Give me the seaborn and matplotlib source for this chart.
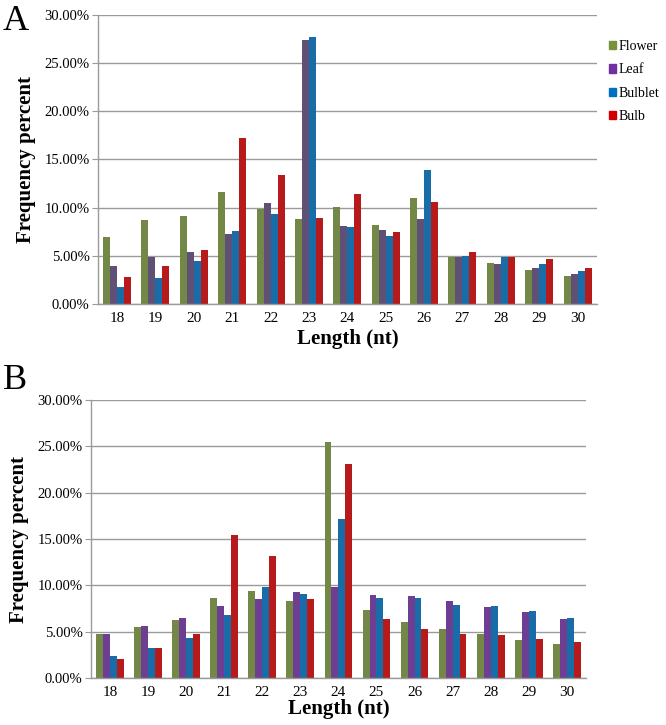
import pandas as pd
import numpy as np
import matplotlib
matplotlib.use('Agg')
import matplotlib.pyplot as plt
import seaborn as sns
from matplotlib.patches import Patch
from matplotlib.ticker import FuncFormatter

# sRNA length distribution, values in percent
lengths = [18, 19, 20, 21, 22, 23, 24, 25, 26, 27, 28, 29, 30]
tissues = ['Flower', 'Leaf', 'Bulblet', 'Bulb']

# panel A
a_flower = [7.0, 8.75, 9.17, 11.63, 9.9, 8.82, 10.03, 8.16, 11.0, 4.83, 4.27, 3.54, 2.92]
a_leaf = [3.99, 4.9, 5.35, 7.26, 10.52, 27.38, 8.09, 7.64, 8.82, 4.93, 4.2, 3.72, 3.13]
a_bulblet = [1.81, 2.71, 4.51, 7.53, 9.34, 27.76, 7.99, 7.01, 13.92, 5.03, 4.83, 4.17, 3.44]
a_bulb = [2.81, 3.99, 5.56, 17.26, 13.37, 8.92, 11.42, 7.47, 10.63, 5.38, 4.9, 4.72, 3.72]

# panel B
b_flower = [4.72, 5.55, 6.23, 8.68, 9.43, 8.32, 25.42, 7.38, 6.05, 5.29, 4.72, 4.14, 3.67]
b_leaf = [4.72, 5.65, 6.52, 7.74, 8.57, 9.33, 9.79, 8.97, 8.89, 8.32, 7.63, 7.09, 6.34]
b_bulblet = [2.34, 3.24, 4.36, 6.81, 9.79, 9.07, 17.21, 8.68, 8.61, 7.92, 7.74, 7.2, 6.52]
b_bulb = [2.09, 3.24, 4.79, 15.48, 13.22, 8.5, 23.05, 6.34, 5.29, 4.79, 4.61, 4.25, 3.89]

green = '#77933C'
purple_a = '#604A7B'
purple_b = '#7030A0'
blue = '#0070C0'
red = '#D00000'

plt.rcParams['font.family'] = ['Liberation Serif', 'DejaVu Serif']


def long_df(f, l, bt, b):
    rows = []
    for name, vals in zip(tissues, [f, l, bt, b]):
        for x, v in zip(lengths, vals):
            rows.append({'length': str(x), 'tissue': name, 'pct': v})
    return pd.DataFrame(rows)


def draw(ax, df, leaf_color):
    pal = {'Flower': green, 'Leaf': leaf_color, 'Bulblet': blue, 'Bulb': red}
    sns.barplot(data=df, x='length', y='pct', hue='tissue', hue_order=tissues,
                palette=pal, width=0.73, linewidth=0, ax=ax, legend=False)
    ax.set_ylim(0, 30)
    ax.set_yticks(np.arange(0, 31, 5))
    ax.yaxis.set_major_formatter(FuncFormatter(lambda v, p: f'{v:.2f}%'))
    ax.set_xlim(-0.5, len(lengths) - 0.5)
    ax.grid(axis='y', color='#9a9a9a', linewidth=1.0)
    ax.set_axisbelow(True)
    for s in ['top', 'right']:
        ax.spines[s].set_visible(False)
    for s in ['left', 'bottom']:
        ax.spines[s].set_color('#9a9a9a')
        ax.spines[s].set_linewidth(1.0)
    ax.tick_params(axis='y', length=4, color='#9a9a9a', labelsize=10.5, pad=2)
    ax.tick_params(axis='x', length=0, labelsize=11, pad=6)
    ax.set_ylabel('Frequency percent', fontsize=15, fontweight='bold', labelpad=6)


fig = plt.figure(figsize=(6.66, 7.25), dpi=100)
ax1 = fig.add_axes([0.147, 0.5807, 0.749, 0.3986])
ax2 = fig.add_axes([0.1366, 0.0648, 0.743, 0.3834])

draw(ax1, long_df(a_flower, a_leaf, a_bulblet, a_bulb), purple_a)
draw(ax2, long_df(b_flower, b_leaf, b_bulblet, b_bulb), purple_b)

ax1.set_xlabel('Length (nt)', fontsize=15, fontweight='bold', labelpad=3)
ax2.set_xlabel('Length (nt)', fontsize=15, fontweight='bold', labelpad=0)

handles = [Patch(color=c) for c in [green, purple_b, blue, red]]
fig.legend(handles, tissues, loc='upper left', bbox_to_anchor=(0.914, 0.945),
           frameon=False, fontsize=10, handlelength=0.55, handleheight=0.55,
           handletextpad=0.15, labelspacing=0.75, borderaxespad=0, borderpad=0)

fig.text(0.004, 0.993, 'A', fontsize=26, va='top', ha='left')
fig.text(0.004, 0.498, 'B', fontsize=26, va='top', ha='left')

fig.savefig('out.png', dpi=100)
